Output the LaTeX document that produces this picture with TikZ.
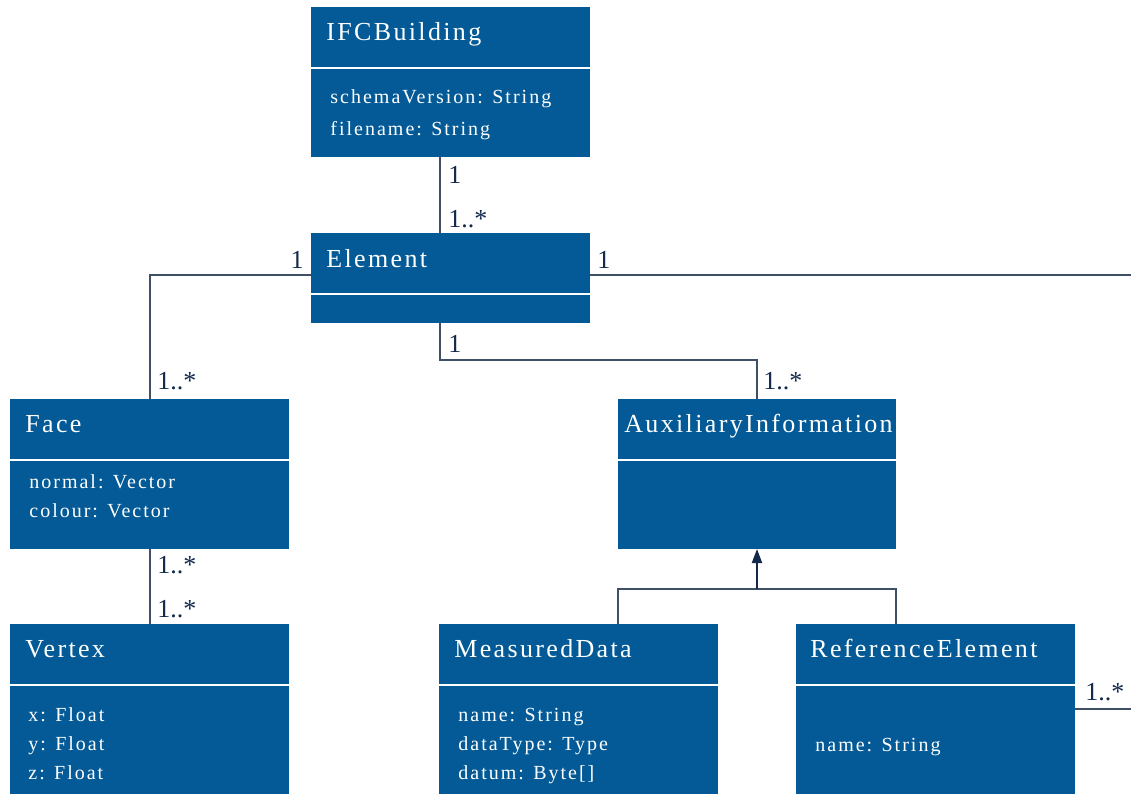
\documentclass[tikz,border=0pt]{standalone}
\usepackage{fontspec}
\setmainfont{Liberation Serif}
\newfontfamily\spacedfont[LetterSpace=10]{Liberation Serif}
\newfontfamily\titlefont[LetterSpace=9]{Liberation Serif}
\usetikzlibrary{arrows.meta}
\definecolor{umlblue}{HTML}{035A96}
\definecolor{umlline}{HTML}{3F5066}
\definecolor{umltext}{HTML}{13294B}
\begin{document}
\begin{tikzpicture}[x=0.5pt,y=-0.5pt,
    classbox/.style={fill=umlblue,draw=none,anchor=north west,inner sep=0pt,outer sep=0pt,minimum width=139.5pt,
      path picture={\draw[white,line width=1pt] ([yshift=-30.5pt]path picture bounding box.north west)
        -- ([yshift=-30.5pt]path picture bounding box.north east);}},
    classtitle/.style={anchor=base west,inner sep=0pt,text=white,font={\titlefont\fontsize{13pt}{15pt}\selectfont}},
    classattr/.style={anchor=base west,inner sep=0pt,text=white,align=left,font={\spacedfont\fontsize{10pt}{14.5pt}\selectfont}},
    mult/.style={anchor=base west,inner sep=0pt,text=umltext,font={\fontsize{13pt}{15pt}\selectfont}},
    assoc/.style={draw=umlline,line width=1pt},
    inherit/.style={draw=umlline,line width=1pt,-{Triangle[width=5pt,length=7pt]},umltext}]
  \useasboundingbox (0,0) rectangle (1131,794);
  % classes
  \node[classbox,minimum height=75pt] (ifc) at (311,7) {};
  \node[classbox,minimum height=45pt] (elem) at (311,233) {};
  \node[classbox,minimum height=75pt] (face) at (10,399) {};
  \node[classbox,minimum height=85pt] (vertex) at (10,624) {};
  \node[classbox,minimum height=75pt,minimum width=139pt] (aux) at (618,399) {};
  \node[classbox,minimum height=85pt] (meas) at (439,624) {};
  \node[classbox,minimum height=85pt] (ref) at (796,624) {};
  \node[classtitle] (ifctitle) at (326,40) {IFCBuilding};
  \node[classtitle] (elemtitle) at (326,267) {Element};
  \node[classtitle] (facetitle) at (25,432) {Face};
  \node[classtitle] (vertextitle) at (25,657) {Vertex};
  \node[classtitle] (auxtitle) at (624,432) {AuxiliaryInformation};
  \node[classtitle] (meastitle) at (454,657) {MeasuredData};
  \node[classtitle] (reftitle) at (810,657) {ReferenceElement};
  \node[classattr,font={\spacedfont\fontsize{10pt}{16pt}\selectfont}] (ifcattr) at (330,135) {schemaVersion: String\\filename: String};
  \node[classattr] (faceattr) at (29,517) {normal: Vector\\colour: Vector};
  \node[classattr] (vertexattr) at (28,779) {x: Float\\y: Float\\z: Float};
  \node[classattr] (measattr) at (458,779) {name: String\\dataType: Type\\datum: Byte[]};
  \node[classattr] (refattr) at (815,751) {name: String};
  % connectors
  \coordinate (rightedge) at (1131,0);
  \coordinate (fork) at ([yshift=-20pt]aux.south);
  \draw[assoc] ([xshift=64.5pt]ifc.south west) -- ([xshift=64.5pt]elem.north west);
  \draw[assoc] ([yshift=1.5pt]elem.west) -| (face.north);
  \draw[assoc] ([yshift=1.5pt]elem.east) -- ([yshift=1.5pt]elem.east -| rightedge);
  \draw[assoc] ([xshift=64.5pt]elem.south west) -- ++(0,37) -| (aux.north);
  \draw[assoc] (face.south) -- (vertex.north);
  \draw[assoc] (meas.north -| aux.west) |- (fork) -| (ref.north -| aux.east);
  \draw[inherit] (fork) -- (aux.south);
  \draw[assoc] (ref.east) -- (ref.east -| rightedge);
  % multiplicities
  \node[mult] (m1) at (448,183) {1};
  \node[mult] (m2) at (448,227) {1..*};
  \node[mult,anchor=base east] (m3) at (304,268) {1};
  \node[mult] (m4) at (597,268) {1};
  \node[mult] (m5) at (448,352) {1};
  \node[mult] (m6) at (157,389) {1..*};
  \node[mult] (m7) at (763,389) {1..*};
  \node[mult] (m8) at (157,573) {1..*};
  \node[mult] (m9) at (157,617) {1..*};
  \node[mult] (m10) at (1085,700) {1..*};
\end{tikzpicture}
\end{document}
